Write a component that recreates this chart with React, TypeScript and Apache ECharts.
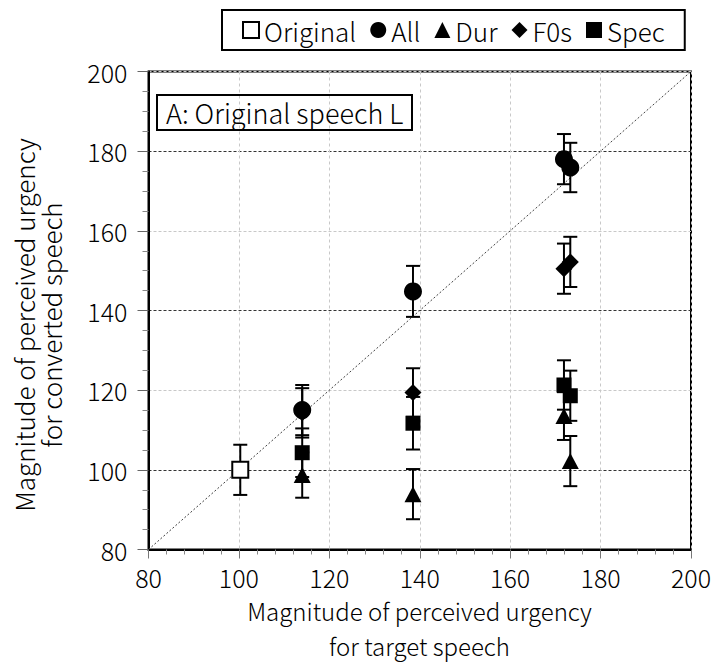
import React, { useEffect, useRef } from "react";
import * as echarts from "echarts";

const FONT = "'Noto Sans CJK JP', 'Noto Sans', sans-serif";

const legendNames = ["Original", "All", "Dur", "F0s", "Spec"];
const xTitle = ["Magnitude of perceived urgency", "for target speech"];
const yTitle = ["Magnitude of perceived urgency", "for converted speech"];
const panelLabel = "A: Original speech L";

const originalX = [100.3];
const originalY = [100.0];
const originalErr = [6.3];

const targetX = [114.0, 138.5, 171.9, 173.3];
const allY = [115.0, 144.8, 178.0, 175.9];
const allErr = [6.3, 6.4, 6.3, 6.2];
const durY = [98.7, 93.9, 113.5, 102.2];
const durErr = [5.7, 6.3, 6.0, 6.3];
const f0sY = [114.3, 119.4, 150.5, 152.2];
const f0sErr = [6.2, 6.1, 6.3, 6.3];
const specY = [104.3, 111.7, 121.3, 118.6];
const specErr = [6.1, 6.6, 6.2, 6.3];

const diagonal = [
  [80, 80],
  [200, 200],
];

function pts(xs: number[], ys: number[]) {
  return xs.map((x, i) => [x, ys[i]]);
}
function errPts(xs: number[], ys: number[], es: number[]) {
  return xs.map((x, i) => [x, ys[i], es[i]]);
}

function errorSeries(name: string, data: number[][]) {
  return {
    type: "custom",
    name: name + " error",
    z: 2,
    silent: true,
    data,
    renderItem: (params: any, api: any) => {
      const x = api.value(0);
      const y = api.value(1);
      const e = api.value(2);
      const top = api.coord([x, y + e]);
      const bot = api.coord([x, y - e]);
      const hw = 7;
      const style = { stroke: "#000", lineWidth: 2 };
      return {
        type: "group",
        children: [
          { type: "line", shape: { x1: top[0], y1: top[1], x2: bot[0], y2: bot[1] }, style },
          { type: "line", shape: { x1: top[0] - hw, y1: top[1], x2: top[0] + hw, y2: top[1] }, style },
          { type: "line", shape: { x1: bot[0] - hw, y1: bot[1], x2: bot[0] + hw, y2: bot[1] }, style },
        ],
      };
    },
  };
}

const solid = { color: "#000", opacity: 1 };
const titleStyle = (text: string, size: number) => ({
  text,
  fontFamily: FONT,
  fontSize: size,
  fontWeight: 300,
  fill: "#000",
  textAlign: "center",
  textVerticalAlign: "middle",
});

export default function App() {
  const ref = useRef<HTMLDivElement>(null);
  useEffect(() => {
    if (!ref.current) return;
    const chart = echarts.init(ref.current, undefined, { renderer: "svg" });
    const option: any = {
      animation: false,
      backgroundColor: "#fff",
      textStyle: { fontFamily: FONT, color: "#000" },
      title: {
        text: panelLabel,
        left: 157,
        top: 95,
        padding: [4, 9, 4, 9],
        borderColor: "#000",
        borderWidth: 2,
        textStyle: { fontFamily: FONT, fontSize: 27, fontWeight: 300, color: "#000" },
      },
      legend: {
        data: legendNames,
        left: 222,
        top: 10,
        padding: [7, 20, 7, 20],
        borderColor: "#000",
        borderWidth: 2,
        itemGap: 14,
        itemWidth: 16,
        itemHeight: 16,
        textStyle: { fontFamily: FONT, fontSize: 26, fontWeight: 300, color: "#000" },
      },
      graphic: [
        { type: "text", x: 419.5, y: 610, silent: true, style: titleStyle(xTitle[0], 24) },
        { type: "text", x: 419.5, y: 645, silent: true, style: titleStyle(xTitle[1], 24) },
        { type: "text", x: 23, y: 325, rotation: Math.PI / 2, silent: true, style: titleStyle(yTitle[0], 26) },
        { type: "text", x: 50, y: 325, rotation: Math.PI / 2, silent: true, style: titleStyle(yTitle[1], 26) },
      ],
      grid: {
        left: 148.5,
        right: 27,
        top: 71.5,
        bottom: 118.5,
        show: true,
        borderColor: "#000",
        borderWidth: 2,
        backgroundColor: "transparent",
        outerBoundsMode: "none",
        containLabel: false,
      },
      xAxis: {
        type: "value",
        min: 80,
        max: 200,
        interval: 20,
        axisLine: { show: true, lineStyle: { color: "#000", width: 2 } },
        axisTick: { show: true, length: 9, lineStyle: { color: "#777" } },
        minorTick: { show: true, splitNumber: 5, length: 5, lineStyle: { color: "#888" } },
        axisLabel: { fontFamily: FONT, fontSize: 25, fontWeight: 300, color: "#000", margin: 15 },
        splitLine: { show: true, lineStyle: { color: "#c8c8c8", type: [3, 3], width: 1 } },
      },
      yAxis: {
        type: "value",
        min: 80,
        max: 200,
        interval: 20,
        axisLine: { show: true, lineStyle: { color: "#000", width: 2 } },
        axisTick: { show: true, length: 11, lineStyle: { color: "#666" } },
        minorTick: { show: true, splitNumber: 4, length: 6, lineStyle: { color: "#888" } },
        axisLabel: { fontFamily: FONT, fontSize: 25, fontWeight: 300, color: "#000", margin: 21 },
        splitLine: { show: true, lineStyle: { color: ["#c8c8c8", "#333"], type: [3, 2], width: 1 } },
      },
      series: [
        {
          type: "line",
          name: "diag",
          data: diagonal,
          symbol: "none",
          silent: true,
          z: 1,
          lineStyle: { color: "#444", width: 1, type: [2, 2] },
        },
        errorSeries("Original", errPts(originalX, originalY, originalErr)),
        errorSeries("Dur", errPts(targetX, durY, durErr)),
        errorSeries("Spec", errPts(targetX, specY, specErr)),
        errorSeries("F0s", errPts(targetX, f0sY, f0sErr)),
        errorSeries("All", errPts(targetX, allY, allErr)),
        {
          type: "scatter",
          name: "Original",
          data: pts(originalX, originalY),
          symbol: "rect",
          symbolSize: 16,
          z: 3,
          itemStyle: { color: "#fff", borderColor: "#000", borderWidth: 2, opacity: 1 },
        },
        {
          type: "scatter",
          name: "Spec",
          data: pts(targetX, specY),
          symbol: "rect",
          symbolSize: 15,
          z: 3,
          itemStyle: solid,
        },
        {
          type: "scatter",
          name: "Dur",
          data: pts(targetX, durY),
          symbol: "triangle",
          symbolSize: [17, 16],
          z: 3,
          itemStyle: solid,
        },
        {
          type: "scatter",
          name: "F0s",
          data: pts(targetX, f0sY),
          symbol: "diamond",
          symbolSize: [17, 17],
          z: 3,
          itemStyle: solid,
        },
        {
          type: "scatter",
          name: "All",
          data: pts(targetX, allY),
          symbol: "circle",
          symbolSize: 18,
          z: 3,
          itemStyle: solid,
        },
      ],
    };
    chart.setOption(option);
    return () => chart.dispose();
  }, []);
  return <div ref={ref} style={{ width: 718, height: 668, position: "absolute", left: 0, top: 0 }} />;
}
